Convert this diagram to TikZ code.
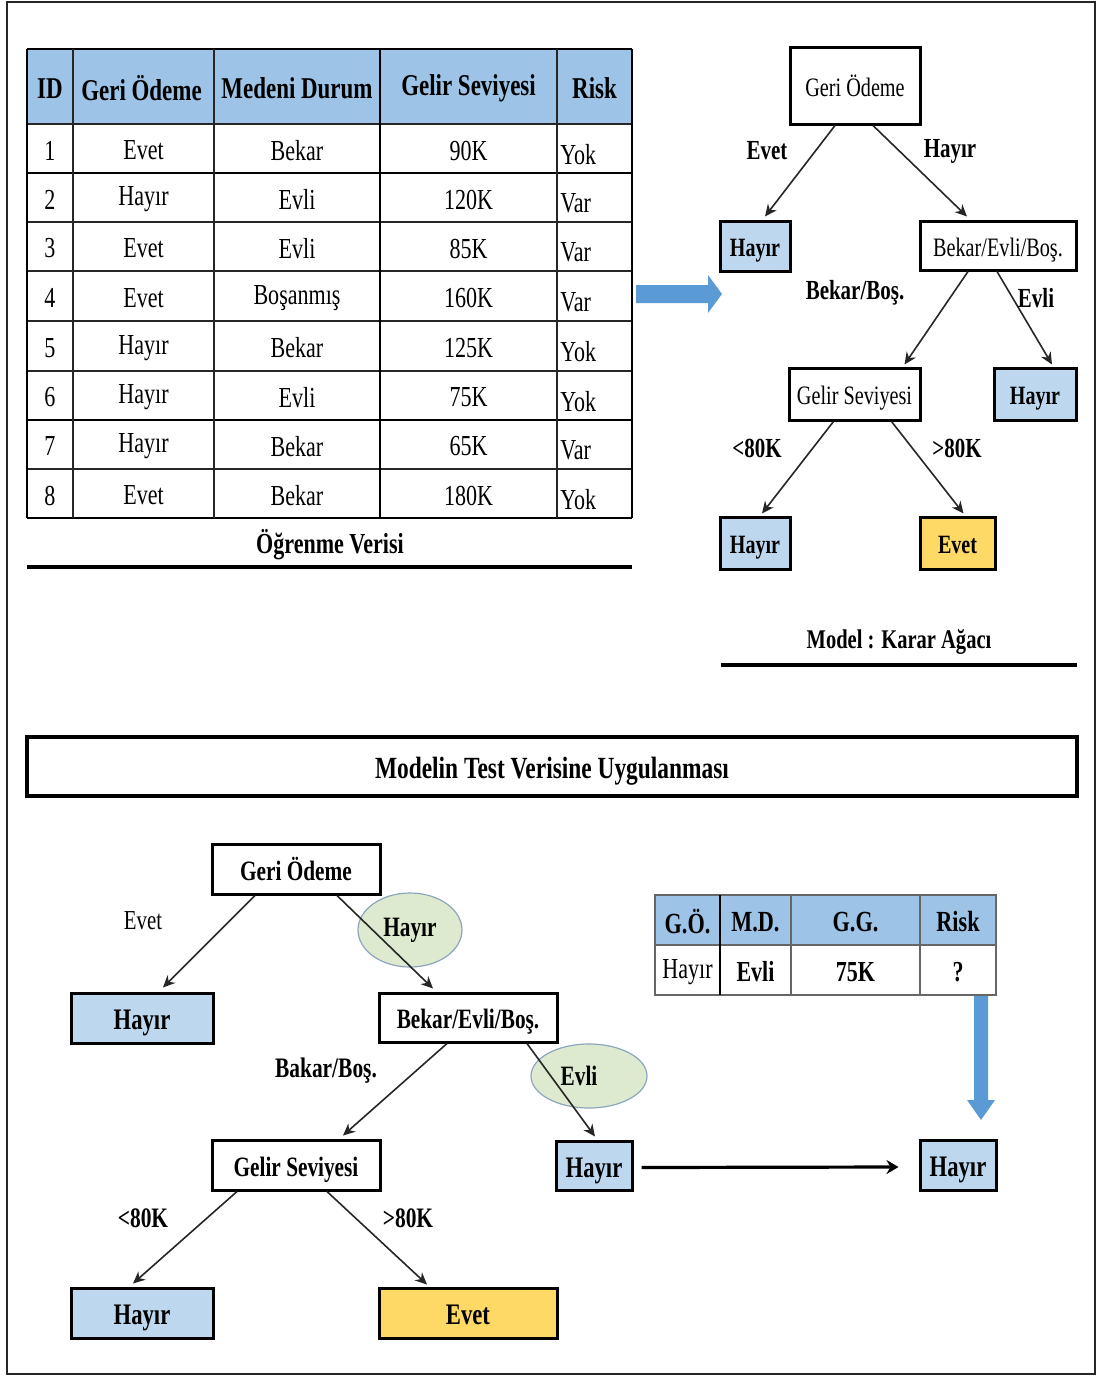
\documentclass[tikz,border=0pt]{standalone}
\usepackage{fontspec}
\setmainfont{Liberation Serif}[FakeStretch=0.76]
\usetikzlibrary{arrows.meta,calc,shapes.geometric}

\definecolor{hdrblue}{RGB}{157,195,230}
\definecolor{leafblue}{RGB}{189,215,238}
\definecolor{leafyellow}{RGB}{255,217,102}
\definecolor{arrowblue}{RGB}{91,155,213}
\definecolor{ellgreen}{RGB}{222,234,208}
\definecolor{ellline}{RGB}{140,165,190}

\begin{document}
\begin{tikzpicture}[x=0.5pt,y=-0.5pt,
  hd/.style={font=\fontsize{15.1}{17}\selectfont\bfseries, inner sep=0pt, yshift=-1pt},
  cell/.style={font=\fontsize{14.5}{17}\selectfont, inner sep=0pt, yshift=-1pt},
  thinline/.style={line width=0.8pt, black!85},
  thickline/.style={line width=1.3pt, black},
  nodebox/.style={draw, line width=1.5pt, fill=white, inner sep=0pt, text height=10.8pt, text depth=0pt},
  topnode/.style={nodebox, font=\fontsize{13.3}{15}\selectfont},
  topleaf/.style={nodebox, font=\fontsize{13.2}{15}\selectfont\bfseries},
  botnode/.style={nodebox, font=\fontsize{14}{16}\selectfont\bfseries, text height=11.2pt},
  botleaf/.style={nodebox, font=\fontsize{14.9}{17}\selectfont\bfseries, text height=11.8pt},
  toplabel/.style={font=\fontsize{13.8}{16}\selectfont\bfseries, inner sep=0pt},
  botlabel/.style={font=\fontsize{14.1}{16}\selectfont\bfseries, inner sep=0pt},
  edge/.style={line width=0.8pt, black!85, -{Stealth[length=6pt,width=5.5pt]}},
  oval/.style={ellipse, draw=ellline, line width=0.6pt, fill=ellgreen, inner sep=0pt,
    font=\fontsize{14}{16}\selectfont\bfseries}
]
\useasboundingbox (0,0) rectangle (1097,1376);

% page frame
\draw[line width=0.9pt, black!85] (7,2) rectangle (1095,1374);

% ---------------- training data table ----------------
\fill[hdrblue] (27,49) rectangle (632,124);
\foreach \yy in {124,222,271,321,371,469}
  \draw[thinline] (27,\yy) -- (632,\yy);
\foreach \yy in {49,173,420,518}
  \draw[thickline] (27,\yy) -- (632,\yy);
\foreach \xx in {73,214,557}
  \draw[thinline] (\xx,49) -- (\xx,518);
\foreach \xx in {27,380,632}
  \draw[thickline] (\xx,49) -- (\xx,518);

\node[hd] (h-id) at (50,86.5) {ID};
\node[hd] (h-go) at (141.5,86.5) {Geri Ödeme};
\node[hd] (h-md) at (297,86.5) {Medeni Durum};
\node[hd] (h-gs) at (468.5,86.5) {Gelir Seviyesi};
\node[hd] (h-rk) at (594.5,86.5) {Risk};

\foreach \i/\yy/\go/\md/\gs/\rk in {
  1/148.5/Evet/Bekar/90K/Yok,
  2/197.5/Hayır/Evli/120K/Var,
  3/246.5/Evet/Evli/85K/Var,
  4/296/Evet/Boşanmış/160K/Var,
  5/346/Hayır/Bekar/125K/Yok,
  6/395.5/Hayır/Evli/75K/Yok,
  7/444.5/Hayır/Bekar/65K/Var,
  8/493.5/Evet/Bekar/180K/Yok} {
  \node[cell] (id\i) at (50,\yy) {\i};
  \node[cell] (go\i) at (143.5,\yy) {\go};
  \node[cell] (md\i) at (297,\yy) {\md};
  \node[cell] (gs\i) at (468.5,\yy) {\gs};
  \node[cell, anchor=west] (rk\i) at (560,\yy+4) {\rk};
}

\node[font=\fontsize{14.5}{17}\selectfont\bfseries] (trainlbl) at (330,545) {Öğrenme Verisi};
\draw[line width=2pt] (27,567) -- (632,567);

% block arrow from the data to the model
\fill[arrowblue] (636,285) -- (708,285) -- (708,275) -- (722,294) -- (708,313) -- (708,303) -- (636,303) -- cycle;

% ---------------- decision tree (model) ----------------
\node[topnode, minimum width=65pt, minimum height=38.5pt] (tr-root) at (855,85.5) {Geri Ödeme};
\node[topleaf, fill=leafblue, minimum width=35pt, minimum height=25pt] (tr-l) at (755,246) {Hayır};
\node[topnode, minimum width=78pt, minimum height=24.5pt] (tr-r) at (998,245.5) {Bekar/Evli/Boş.};
\node[topnode, minimum width=65.5pt, minimum height=26pt] (tr-g) at (854.5,394) {Gelir Seviyesi};
\node[topleaf, fill=leafblue, minimum width=41pt, minimum height=26pt] (tr-h2) at (1035,394) {Hayır};
\node[topleaf, fill=leafblue, minimum width=35pt, minimum height=26pt] (tr-h3) at (755,543) {Hayır};
\node[topleaf, fill=leafyellow, minimum width=37.5pt, minimum height=26pt] (tr-e) at (957.5,543) {Evet};

\draw[edge] ($(tr-root.south)+(-20,0)$) -- ($(tr-l.north)+(10,-3)$);
\draw[edge] ($(tr-root.south)+(18,0)$) -- ($(tr-r.north)+(-31,-3)$);
\draw[edge] ($(tr-r.south)+(-30,0)$) -- ($(tr-g.north)+(50,-2)$);
\draw[edge] ($(tr-r.south)+(-1,0)$) -- ($(tr-h2.north)+(17,-2)$);
\draw[edge] ($(tr-g.south)+(-21,0)$) -- ($(tr-h3.north)+(7,-2)$);
\draw[edge] ($(tr-g.south)+(37,0)$) -- ($(tr-e.north)+(6,-2)$);

\node[toplabel] (tl-evet) at (767,151) {Evet};
\node[toplabel] (tl-hayir) at (950,151) {Hayır};
\node[toplabel] (tl-bb) at (855,293) {Bekar/Boş.};
\node[toplabel] (tl-evli) at (1036,298) {Evli};
\node[toplabel] (tl-lt) at (757,448) {<80K};
\node[toplabel] (tl-gt) at (957,448) {>80K};

\node[font=\fontsize{13.5}{16}\selectfont\bfseries] (modellbl) at (899,642) {Model : Karar Ağacı};
\draw[line width=2pt] (721,665) -- (1077,665);

% ---------------- banner ----------------
\node[draw, line width=2pt, minimum width=525pt, minimum height=29.5pt, text height=12pt, text depth=0pt,
  font=\fontsize{15.4}{17}\selectfont\bfseries] (banner) at (552,766.5) {Modelin Test Verisine Uygulanması};

% ---------------- applying the tree ----------------
\node[oval, minimum width=52pt, minimum height=37pt] (ov-hayir) at (410,930) {Hayır};
\node[oval, minimum width=58pt, minimum height=32pt] (ov-evli) at (589,1076) {\hspace*{-10pt}Evli};

\node[botnode, minimum width=84pt, minimum height=25pt] (b-root) at (296,869) {Geri Ödeme};
\node[botleaf, fill=leafblue, minimum width=71pt, minimum height=25pt] (b-l) at (142,1018) {Hayır};
\node[botnode, minimum width=89pt, minimum height=24.5pt] (b-r) at (468,1017.5) {Bekar/Evli/Boş.};
\node[botnode, minimum width=84pt, minimum height=25pt] (b-g) at (296,1165) {Gelir Seviyesi};
\node[botleaf, fill=leafblue, minimum width=38pt, minimum height=24.5pt] (b-h2) at (594,1165.5) {Hayır};
\node[botleaf, fill=leafblue, minimum width=71pt, minimum height=25pt] (b-h3) at (142,1313) {Hayır};
\node[botleaf, fill=leafyellow, minimum width=89pt, minimum height=25pt] (b-e) at (468,1313) {Evet};
\node[botleaf, fill=leafblue, minimum width=38pt, minimum height=25pt] (b-final) at (958,1165) {Hayır};

\draw[edge] ($(b-root.south)+(-41,0)$) -- ($(b-l.north)+(21,-4)$);
\draw[edge] ($(b-root.south)+(41,0)$) -- ($(b-r.north)+(-35,-3)$);
\draw[edge] ($(b-r.south)+(-21,0)$) -- ($(b-g.north)+(47,-3)$);
\draw[edge] ($(b-r.south)+(59,0)$) -- ($(b-h2.north)+(1,-3)$);
\draw[edge] ($(b-g.south)+(-59,0)$) -- ($(b-h3.north)+(-9,-3)$);
\draw[edge] ($(b-g.south)+(31,0)$) -- ($(b-e.north)+(-41,-2)$);

\node[font=\fontsize{13.7}{16}\selectfont, inner sep=0pt] (bl-evet) at (143,921) {Evet};
\node[botlabel] (bl-bb) at (326,1071) {Bakar/Boş.};
\node[botlabel] (bl-lt) at (143,1218) {<80K};
\node[botlabel] (bl-gt) at (408,1218) {>80K};

% test record
\fill[hdrblue] (655,895) rectangle (996,945);
\draw[line width=0.8pt, black!60] (655,895) rectangle (996,995);
\draw[line width=0.8pt, black!60] (655,945) -- (996,945);
\draw[line width=0.8pt, black!60] (791,895) -- (791,995);
\draw[line width=0.8pt, black!60] (920,895) -- (920,995);
\draw[line width=1.2pt, black] (720,895) -- (720,995);
\node[hd, font=\fontsize{14.6}{17}\selectfont\bfseries] (q-go) at (687.5,920) {G.Ö.};
\node[hd, font=\fontsize{14.6}{17}\selectfont\bfseries] (q-md) at (755.5,920) {M.D.};
\node[hd, font=\fontsize{14.6}{17}\selectfont\bfseries] (q-gg) at (855.5,920) {G.G.};
\node[hd, font=\fontsize{14.6}{17}\selectfont\bfseries] (q-rk) at (958,920) {Risk};
\node[cell] (v-go) at (687.5,970) {Hayır};
\node[cell, font=\fontsize{14.5}{17}\selectfont\bfseries] (v-md) at (755.5,970) {Evli};
\node[cell, font=\fontsize{14.5}{17}\selectfont\bfseries] (v-gg) at (855.5,970) {75K};
\node[cell, font=\fontsize{14.5}{17}\selectfont\bfseries] (v-rk) at (958,970) {?};

% block arrow from the record down to the result
\fill[arrowblue] (974,996) -- (988,996) -- (988,1100) -- (995,1100) -- (981,1120) -- (967,1100) -- (974,1100) -- cycle;

% result arrow
\draw[line width=1.6pt, -{Stealth[length=6pt,width=7pt]}] ($(b-h2.east)+(8,2)$) -- ($(b-final.west)+(-20,2)$);

\end{tikzpicture}
\end{document}
